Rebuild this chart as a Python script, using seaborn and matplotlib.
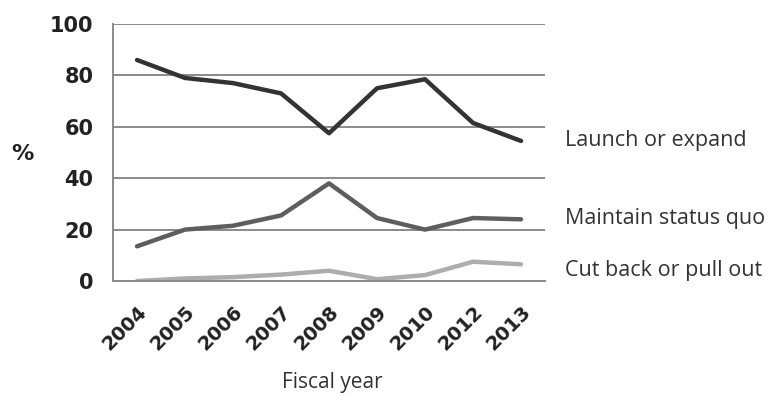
import matplotlib
matplotlib.use("Agg")
import matplotlib.pyplot as plt
import seaborn as sns
import pandas as pd
import numpy as np

years = ["2004", "2005", "2006", "2007", "2008", "2009", "2010", "2012", "2013"]
launch = [86, 79, 77, 73, 57.5, 75, 78.5, 61.5, 54.5]
maintain = [13.5, 20, 21.5, 25.5, 38, 24.5, 20, 24.5, 24]
cutback = [0, 1, 1.5, 2.5, 4, 0.7, 2.3, 7.5, 6.5]
series_names = ["Launch or expand", "Maintain status quo", "Cut back or pull out"]

df = pd.DataFrame({
    "year": years * 3,
    "value": launch + maintain + cutback,
    "series": np.repeat(series_names, len(years)),
})

sns.set_style("white")
plt.rcParams['font.family'] = ['DejaVu Sans']

fig = plt.figure(figsize=(7.72, 3.96), dpi=100)
ax = fig.add_axes([0.1464, 0.2904, 0.5596, 0.649])

palette = {"Launch or expand": "#333333", "Maintain status quo": "#5e5e5e", "Cut back or pull out": "#adadad"}
sns.lineplot(data=df, x="year", y="value", hue="series", palette=palette,
             linewidth=3.2, ax=ax, legend=False, sort=False)

ax.set_xlim(-0.5, len(years) - 0.5)
ax.set_ylim(0, 100)
ax.set_yticks([0, 20, 40, 60, 80, 100])
ax.yaxis.grid(True, color="#8a8a8a", linewidth=1.4)
ax.set_axisbelow(True)
for s in ["top", "right"]:
    ax.spines[s].set_visible(False)
ax.spines["left"].set_color("#8a8a8a")
ax.spines["left"].set_linewidth(1.4)
ax.spines["bottom"].set_color("#8a8a8a")
ax.spines["bottom"].set_linewidth(1.4)

ax.set_xticks(range(len(years)))
ax.set_xticklabels(years, rotation=45, ha="right", rotation_mode="anchor",
                   fontsize=14, fontweight="bold", color="#222222")
ax.tick_params(axis="x", which="major", length=0, pad=15)
ax.set_xticks(np.arange(-0.5, len(years)), minor=True)
ax.tick_params(axis="x", which="minor", length=7, width=1.4, color="#8a8a8a", direction="out")
ax.tick_params(axis="y", length=8, width=1.4, color="#8a8a8a", labelsize=15, pad=6)
for lab in ax.get_yticklabels():
    lab.set_fontweight("bold")
    lab.set_color("#222222")
ax.set_xlabel("")
ax.set_ylabel("")

fig.text(0.015, 0.611, "%", fontsize=16, fontweight="bold", color="#222222", va="center")
fig.text(0.43, 0.035, "Fiscal year", fontsize=15, family=["Open Sans"], color="#333333",
         ha="center", va="center")
for name, yy in zip(series_names, [0.644, 0.447, 0.316]):
    fig.text(0.732, yy, name, fontsize=15.5, family=["Open Sans"], color="#333333", va="center")

fig.savefig("out.png", dpi=100)
